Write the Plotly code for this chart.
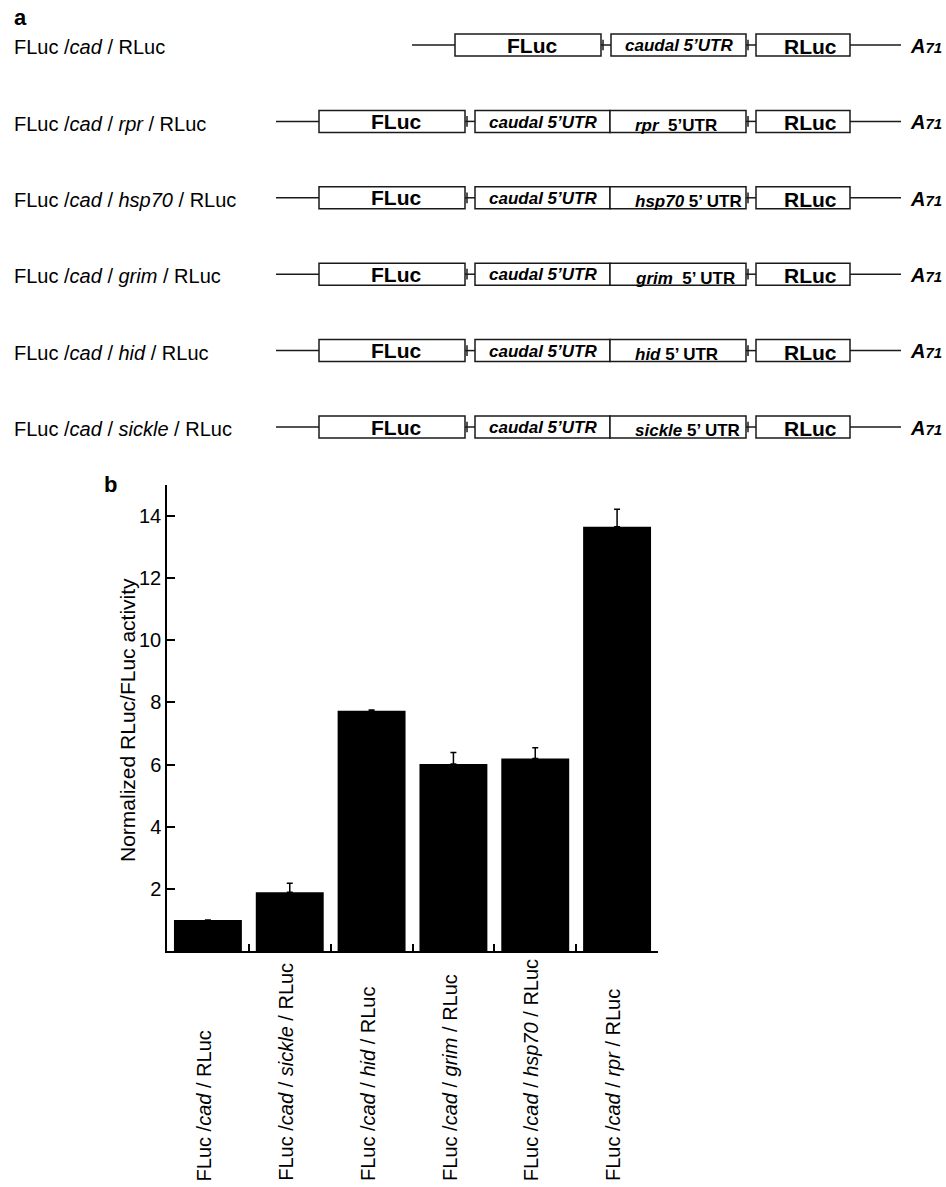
import plotly.graph_objects as go

W, H = 946, 1187
FONT = "Liberation Sans, Arial, Helvetica, sans-serif"

# ---------------- Panel b data ----------------
bar_keys = ["cad", "sickle", "hid", "grim", "hsp70", "rpr"]
bar_labels = [
    "FLuc /<i>cad</i> / RLuc",
    "FLuc /<i>cad</i> / <i>sickle</i> / RLuc",
    "FLuc /<i>cad</i> / <i>hid</i> / RLuc",
    "FLuc /<i>cad</i> / <i>grim</i> / RLuc",
    "FLuc /<i>cad</i> / <i>hsp70</i> / RLuc",
    "FLuc /<i>cad</i> / <i>rpr</i> / RLuc",
]
bar_values = [1.0, 1.89, 7.73, 6.02, 6.20, 13.66]
bar_errors = [0.0, 0.29, 0.03, 0.37, 0.34, 0.56]
y_ticks = [2, 4, 6, 8, 10, 12, 14]
y_title = "Normalized RLuc/FLuc activity"

# ---------------- Panel a data ----------------
row_labels = [
    "FLuc /<i>cad</i> / RLuc",
    "FLuc /<i>cad</i> / <i>rpr</i> / RLuc",
    "FLuc /<i>cad</i> / <i>hsp70</i> / RLuc",
    "FLuc /<i>cad</i> / <i>grim</i> / RLuc",
    "FLuc /<i>cad</i> / <i>hid</i> / RLuc",
    "FLuc /<i>cad</i> / <i>sickle</i> / RLuc",
]
row_inserts = [None, "rpr", "hsp70", "grim", "hid", "sickle"]
insert_texts = [None,
                "<b><i>rpr</i>\u00a0\u00a05\u2019UTR</b>",
                "<b><i>hsp70</i> 5\u2019 UTR</b>",
                "<b><i>grim</i>\u00a0\u00a05\u2019 UTR</b>",
                "<b><i>hid</i> 5\u2019 UTR</b>",
                "<b><i>sickle</i> 5\u2019 UTR</b>"]
# element lengths (diagram units), right-aligned at the RLuc end
seg = dict(lead=43, fluc=146, conn=10, caudal=135, insert=136, rluc=94, tail=51)
RLUC_END = 850

fig = go.Figure()

# bars
fig.add_trace(go.Bar(
    x=bar_keys, y=bar_values, width=0.83,
    marker=dict(color="black", line=dict(width=0)),
    error_y=dict(type="data", array=bar_errors, arrayminus=[0] * len(bar_errors),
                 symmetric=False, color="black", thickness=1.5, width=3),
    showlegend=False, hoverinfo="skip",
))

# invisible trace to establish diagram axes
fig.add_trace(go.Scatter(x=[0, 946], y=[0, 0], xaxis="x2", yaxis="y2",
                         mode="markers", marker=dict(opacity=0), showlegend=False,
                         hoverinfo="skip"))

shapes = []
annotations = []
LC = "#1a1a1a"
LW = 1.5
HB = 0.144  # half box height in row units


def box(x0, x1, r):
    shapes.append(dict(type="rect", xref="x2", yref="y2", x0=x0, x1=x1,
                       y0=r - HB, y1=r + HB, line=dict(color=LC, width=LW),
                       fillcolor="white", layer="above"))


def hline(x0, x1, r):
    shapes.append(dict(type="line", xref="x2", yref="y2", x0=x0, x1=x1,
                       y0=r, y1=r, line=dict(color=LC, width=LW)))


def conn(x0, x1, r):
    hline(x0, x1, r)
    shapes.append(dict(type="line", xref="x2", yref="y2", x0=x0 + 2, x1=x0 + 2,
                       y0=r - 0.07, y1=r + 0.07, line=dict(color=LC, width=LW)))


def txt(x, r, text, size, anchor="center", dy=0.0):
    annotations.append(dict(xref="x2", yref="y2", x=x, y=r + dy, text=text,
                            showarrow=False, xanchor=anchor, yanchor="middle",
                            font=dict(family=FONT, size=size, color="black")))


for r, (lab, ins) in enumerate(zip(row_labels, row_inserts)):
    rl1 = RLUC_END
    rl0 = rl1 - seg["rluc"]
    c_end = rl0 - seg["conn"]
    if ins is not None:
        i1 = c_end
        i0 = i1 - seg["insert"]
        cd1 = i0
    else:
        cd1 = c_end
    cd0 = cd1 - seg["caudal"]
    f1 = cd0 - seg["conn"]
    f0 = f1 - seg["fluc"]
    l0 = f0 - seg["lead"]

    hline(l0, f0, r)
    box(f0, f1, r)
    conn(f1, cd0, r)
    box(cd0, cd1, r)
    if ins is not None:
        box(i0, i1, r)
    conn(c_end, rl0, r)
    box(rl0, rl1, r)
    hline(rl1, rl1 + seg["tail"], r)

    txt((f0 + f1) / 2 + 4, r, "<b>FLuc</b>", 21)
    txt((cd0 + cd1) / 2, r, "<b><i>caudal 5\u2019UTR</i></b>", 17, dy=0.01)
    if ins is not None:
        txt(i0 + 23, r, insert_texts[r], 17, anchor="left", dy=0.05)
    txt((rl0 + rl1) / 2 + 7, r, "<b>RLuc</b>", 21, dy=0.02)
    txt(rl1 + seg["tail"] + 7, r,
        "<b><i>A</i></b><span style='font-size:15px'><b><i>71</i></b></span>", 20, anchor="left", dy=0.01)
    txt(12, r, lab, 20, anchor="left", dy=0.03)

# panel letters
annotations.append(dict(xref="paper", yref="paper", x=12 / W, y=1 - 17 / H, text="<b>a</b>",
                        showarrow=False, xanchor="left", yanchor="middle",
                        font=dict(family=FONT, size=22, color="black")))
annotations.append(dict(xref="paper", yref="paper", x=102 / W, y=1 - 484 / H, text="<b>b</b>",
                        showarrow=False, xanchor="left", yanchor="middle",
                        font=dict(family=FONT, size=22, color="black")))

# y title
annotations.append(dict(xref="paper", yref="paper", x=127 / W, y=1 - 720 / H, text=y_title,
                        showarrow=False, xanchor="center", yanchor="middle", textangle=-90,
                        font=dict(family=FONT, size=21, color="black")))

# x category labels (rotated, starting from the bottom)
for k, lab in zip(bar_keys, bar_labels):
    annotations.append(dict(xref="x", yref="paper", x=k, y=4 / H, text=lab,
                            showarrow=False, xanchor="center", yanchor="bottom",
                            textangle=-90, xshift=-4,
                            font=dict(family=FONT, size=20, color="black")))

fig.update_layout(
    width=W, height=H,
    margin=dict(l=0, r=0, t=0, b=0),
    paper_bgcolor="white", plot_bgcolor="rgba(0,0,0,0)",
    font=dict(family=FONT, size=20, color="black"),
    bargap=0.17,
    shapes=shapes,
    annotations=annotations,
    xaxis=dict(domain=[167 / W, 658 / W], type="category", range=[-0.5, 5.5],
               tickson="boundaries", ticks="inside", ticklen=7, tickwidth=1.5,
               tickcolor="black", showticklabels=False, showline=True,
               linecolor="black", linewidth=1.5, showgrid=False, zeroline=False,
               fixedrange=True),
    yaxis=dict(domain=[(H - 951) / H, (H - 485) / H], range=[0, 15],
               tickvals=y_ticks, ticks="inside", ticklen=8, tickwidth=1.5,
               tickcolor="black", showline=True, linecolor="black", linewidth=1.5,
               showgrid=False, zeroline=False, tickfont=dict(size=20, family=FONT),
               fixedrange=True),
    xaxis2=dict(domain=[0, 1], range=[0, W], visible=False, fixedrange=True),
    yaxis2=dict(domain=[(H - 470) / H, 1], range=[(470 - 45) / 76.4, -45 / 76.4],
                visible=False, fixedrange=True, anchor="x2"),
)

fig.write_html("out.html", config={"displayModeBar": False},
               post_script="document.body.style.margin='0';document.body.style.overflow='hidden';")
